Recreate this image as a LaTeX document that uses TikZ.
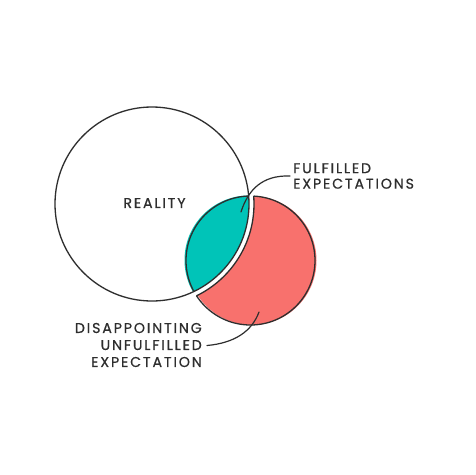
\documentclass[tikz,border=0pt]{standalone}
\usepackage{fontspec}
\setmainfont{Poppins}[LetterSpace=13, FakeBold=0.6]
\definecolor{tealc}{HTML}{00C4B8}
\definecolor{redc}{HTML}{F8716D}
\definecolor{ink}{HTML}{2E2E2E}
\tikzset{
  outline/.style={draw=ink, line width=1.3pt},
  leader/.style={draw=ink, line width=1.2pt, line cap=round},
  lbl/.style={inner sep=0pt, text=ink, font=\fontsize{14.2}{15.5}\selectfont},
  lblb/.style={inner sep=0pt, text=ink, font=\fontsize{14.2}{17}\selectfont}
}
\begin{document}
\begin{tikzpicture}[x=1pt,y=-1pt]
\useasboundingbox[fill=white] (0,0) rectangle (475,475);
% teal lens (intersection)
\begin{scope}
  \clip (152,204) circle[radius=97];
  \fill[tealc] (249,260) circle[radius=64.5];
  \draw[outline] (250.5,260.5) circle[radius=64.5];
\end{scope}
% red crescent (expectation minus reality)
\begin{scope}[even odd rule]
  \clip (-10,-10) rectangle (485,485) (152,204) circle[radius=102];
  \fill[redc] (252,260.5) circle[radius=64.5];
  \draw[outline] (250.5,260.5) circle[radius=64.5];
\end{scope}
\begin{scope}
  \clip (250.5,260.5) circle[radius=64.5];
  \draw[outline] (152,204) circle[radius=102];
\end{scope}
% reality circle
\draw[outline] (152,204) circle[radius=97];
% labels
\node[lbl] (reality) at (154.5,203) {REALITY};
\node[lbl, anchor=west, align=left] (fulf) at (293,176) {FULFILLED\\EXPECTATIONS};
\node[lblb, anchor=east, align=right] (disap) at (202,345) {DISAPPOINTING\\UNFULFILLED\\EXPECTATION};
% leaders
\coordinate (f1) at ([xshift=-3pt]fulf.west);
\coordinate (f2) at (241,212);
\draw[leader] (f1) .. controls (262,175) and (248,190) .. (f2);
\coordinate (d1) at ([xshift=5pt,yshift=-0.5pt]disap.east);
\coordinate (d2) at (259,312);
\draw[leader] (d1) .. controls (235,343) and (252,331) .. (d2);
\end{tikzpicture}
\end{document}
